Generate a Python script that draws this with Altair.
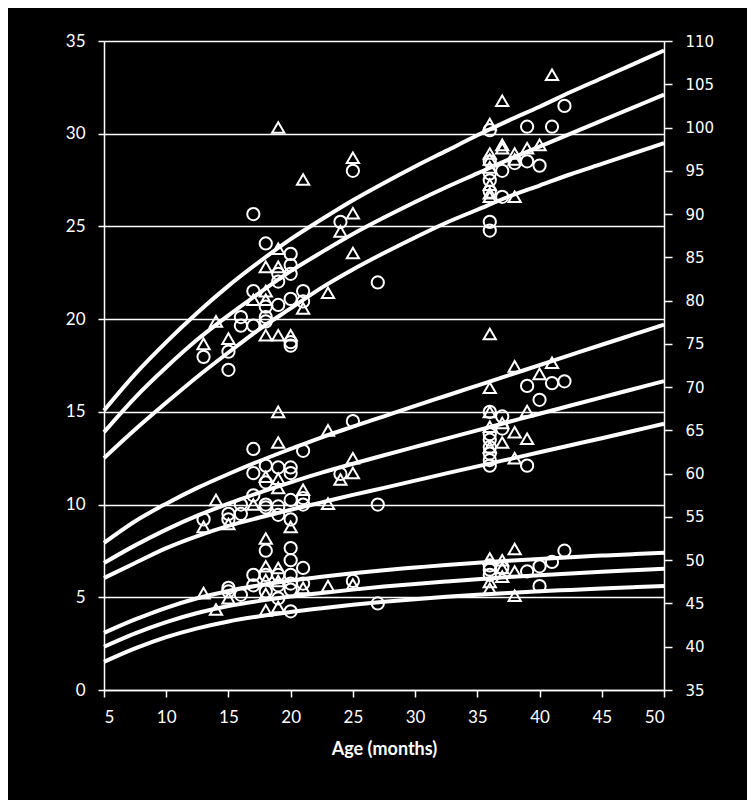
import altair as alt
import pandas as pd

# ---------------- data ----------------
curve_months = [5, 7.5, 10, 12.5, 15, 17.5, 20, 22.5, 25, 27.5, 30, 32.5, 35, 37.5, 40, 42.5, 45, 47.5, 50]

# height reference curves (cm, right axis)
height_upper = [67.3, 71.5, 75.2, 78.6, 81.7, 84.5, 87.1, 89.4, 91.6, 93.6, 95.5, 97.3, 99.1, 100.8, 102.4, 104.1, 105.7, 107.3, 108.9]
height_mid = [64.8, 68.8, 72.3, 75.5, 78.3, 80.9, 83.4, 85.6, 87.7, 89.6, 91.4, 93.1, 94.7, 96.3, 97.8, 99.3, 100.8, 102.3, 103.8]
height_low = [61.8, 65.1, 68.2, 71.2, 74.0, 76.7, 79.1, 81.5, 83.6, 85.5, 87.3, 89.0, 90.5, 92.0, 93.3, 94.6, 95.8, 97.0, 98.2]

# weight reference curves (kg, left axis)
weight_upper = [7.93, 9.1, 10.05, 10.9, 11.65, 12.35, 13.0, 13.63, 14.2, 14.76, 15.32, 15.87, 16.42, 16.97, 17.52, 18.07, 18.62, 19.16, 19.7]
weight_mid = [6.85, 7.8, 8.65, 9.4, 10.05, 10.65, 11.2, 11.72, 12.2, 12.66, 13.11, 13.56, 14.0, 14.45, 14.9, 15.34, 15.78, 16.22, 16.66]
weight_low = [6.04, 6.85, 7.65, 8.3, 8.85, 9.3, 9.72, 10.12, 10.52, 10.9, 11.29, 11.68, 12.06, 12.44, 12.82, 13.2, 13.58, 13.97, 14.36]

# head circumference reference curves (cm, right axis)
head_upper = [41.6, 43.15, 44.5, 45.6, 46.45, 47.1, 47.65, 48.1, 48.5, 48.85, 49.15, 49.45, 49.7, 49.93, 50.15, 50.35, 50.53, 50.7, 50.86]
head_mid = [40.0, 41.55, 42.85, 43.9, 44.7, 45.3, 45.8, 46.22, 46.6, 46.95, 47.26, 47.54, 47.81, 48.05, 48.27, 48.47, 48.66, 48.83, 49.0]
head_low = [38.25, 39.8, 41.1, 42.12, 42.92, 43.52, 44.02, 44.45, 44.85, 45.2, 45.5, 45.77, 46.0, 46.21, 46.4, 46.57, 46.73, 46.88, 47.02]

# observations
height_circle_age = [13, 15, 15, 16, 16, 17, 17, 17, 18, 18, 18, 18, 19, 19, 19, 20, 20, 20, 20, 20, 20, 21, 21, 24, 25, 27,
                     36, 36, 36, 36, 36, 36, 36, 37, 37, 38, 39, 39, 40, 41, 42]
height_circle_cm = [73.5, 74.1, 72.0, 78.1, 77.1, 90.0, 81.1, 77.1, 86.6, 79.3, 78.1, 77.6, 83.1, 82.2, 79.5, 85.4, 84.1, 83.1, 80.2, 75.2, 74.8, 81.1, 79.9, 89.1, 95.0, 82.1,
                    99.7, 96.1, 94.7, 93.9, 92.6, 89.1, 88.1, 95.0, 92.0, 95.9, 100.1, 96.1, 95.6, 100.1, 102.5]
height_tri_age = [13, 14, 15, 17, 18, 18, 18, 18, 19, 19, 19, 19, 20, 21, 21, 23, 24, 25, 25, 25,
                  36, 36, 36, 36, 36, 36, 36, 37, 37, 37, 38, 38, 38, 39, 40, 41]
height_tri_cm = [75.0, 77.6, 75.6, 80.1, 83.9, 81.1, 80.1, 76.0, 100.0, 86.0, 83.9, 76.0, 76.0, 94.0, 79.1, 80.9, 88.0, 96.5, 90.1, 85.5,
                 100.4, 97.0, 96.3, 95.4, 93.4, 92.4, 92.0, 103.1, 98.0, 97.6, 97.0, 96.3, 92.0, 97.6, 98.0, 106.1]

weight_circle_age = [13, 15, 15, 16, 16, 17, 17, 17, 18, 18, 18, 18, 19, 19, 19, 20, 20, 20, 20, 21, 21, 21, 24, 25, 27,
                     36, 36, 36, 36, 36, 36, 36, 37, 37, 39, 39, 40, 41, 42]
weight_circle_kg = [9.2, 9.5, 9.2, 10.0, 9.5, 13.0, 11.7, 10.5, 12.1, 11.2, 10.0, 9.85, 12.0, 9.9, 9.45, 12.0, 11.7, 10.25, 9.2, 12.9, 10.35, 10.0, 11.65, 14.5, 10.0,
                    15.0, 13.8, 13.5, 13.1, 12.75, 12.4, 12.1, 14.75, 14.1, 16.4, 12.1, 15.65, 16.55, 16.65]
weight_tri_age = [13, 14, 15, 17, 18, 19, 19, 19, 19, 20, 21, 23, 23, 24, 25, 25,
                  36, 36, 36, 36, 36, 37, 37, 38, 38, 38, 39, 39, 40, 41]
weight_tri_kg = [8.8, 10.25, 8.95, 10.0, 11.5, 15.0, 13.35, 11.4, 10.9, 8.8, 10.8, 14.0, 10.05, 11.35, 12.5, 11.7,
                 19.2, 16.3, 15.0, 14.2, 13.1, 14.4, 13.35, 17.45, 13.9, 12.5, 15.05, 13.55, 17.05, 17.65]

head_circle_age = [15, 15, 16, 17, 17, 18, 18, 18, 19, 19, 19, 20, 20, 20, 20, 20, 20, 21, 21, 25, 27,
                   36, 36, 36, 37, 39, 40, 40, 41, 42]
head_circle_cm = [46.8, 46.4, 46.0, 48.3, 47.1, 51.1, 48.3, 46.4, 48.3, 47.1, 45.6, 51.4, 50.0, 48.3, 47.3, 46.6, 44.1, 49.1, 47.3, 47.6, 45.0,
                  49.4, 48.9, 48.3, 49.1, 48.7, 49.3, 47.0, 49.8, 51.1]
head_tri_age = [13, 14, 15, 18, 18, 18, 18, 18, 19, 19, 19, 21, 23, 25, 36, 36, 36, 37, 37, 37, 38, 38, 38]
head_tri_cm = [46.2, 44.3, 45.6, 52.5, 49.3, 47.7, 46.1, 44.2, 49.1, 47.6, 44.6, 46.8, 47.0, 47.2, 50.2, 47.5, 46.7, 50.0, 49.1, 48.1, 51.3, 48.7, 45.9]

x_ticks = [5, 10, 15, 20, 25, 30, 35, 40, 45, 50]
left_ticks = [0, 5, 10, 15, 20, 25, 30, 35]
right_ticks = list(range(35, 111, 5))


# ---------------- tables ----------------
def curves(named):
    rows = []
    for name, vals in named.items():
        for m, v in zip(curve_months, vals):
            rows.append({"age": m, "value": v, "curve": name})
    return pd.DataFrame(rows)


def pts(ages, vals):
    return pd.DataFrame({"age": ages, "value": vals})


weight_curves = curves({"wu": weight_upper, "wm": weight_mid, "wl": weight_low})
right_curves = curves({"hu": height_upper, "hm": height_mid, "hl": height_low,
                       "cu": head_upper, "cm": head_mid, "cl": head_low})

x_enc = alt.X(
    "age:Q",
    scale=alt.Scale(domain=[5, 50], nice=False, zero=False),
    axis=alt.Axis(values=x_ticks, title="Age (months)", grid=False, tickSize=7,
                  labelPadding=20, labelBaseline="middle", labelFont="Lato", labelFontSize=17,
                  titleFont="Lato", titleFontSize=18, titleFontWeight="bold",
                  titleY=59, titleBaseline="middle", domainWidth=1.5, tickWidth=1.5),
)

y_left = alt.Y(
    "value:Q",
    scale=alt.Scale(domain=[0, 35], nice=False, zero=False),
    axis=alt.Axis(orient="left", values=left_ticks, title=None, grid=True, gridWidth=1.5,
                  tickSize=6, labelPadding=13, labelFont="Lato", labelFontSize=17,
                  domainWidth=1.5, tickWidth=1.5),
)

y_right = alt.Y(
    "value:Q",
    scale=alt.Scale(domain=[35, 110], nice=False, zero=False),
    axis=alt.Axis(orient="right", values=right_ticks, title=None, grid=False,
                  tickSize=8, labelPadding=13, labelFont="DejaVu Sans", labelFontSize=15,
                  domainWidth=1.5, tickWidth=1.5),
)

line_kw = dict(color="white", strokeWidth=4, interpolate="monotone")
pt_kw = dict(filled=False, color="white", strokeWidth=2, size=150, opacity=1)

left_layer = alt.layer(
    alt.Chart(weight_curves).mark_line(**line_kw).encode(x=x_enc, y=y_left, detail="curve:N"),
    alt.Chart(pts(weight_circle_age, weight_circle_kg)).mark_point(shape="circle", **pt_kw).encode(x=x_enc, y=y_left),
    alt.Chart(pts(weight_tri_age, weight_tri_kg)).mark_point(shape="triangle-up", **pt_kw).encode(x=x_enc, y=y_left),
)

right_layer = alt.layer(
    alt.Chart(right_curves).mark_line(**line_kw).encode(x=x_enc, y=y_right, detail="curve:N"),
    alt.Chart(pts(height_circle_age, height_circle_cm)).mark_point(shape="circle", **pt_kw).encode(x=x_enc, y=y_right),
    alt.Chart(pts(height_tri_age, height_tri_cm)).mark_point(shape="triangle-up", **pt_kw).encode(x=x_enc, y=y_right),
    alt.Chart(pts(head_circle_age, head_circle_cm)).mark_point(shape="circle", **pt_kw).encode(x=x_enc, y=y_right),
    alt.Chart(pts(head_tri_age, head_tri_cm)).mark_point(shape="triangle-up", **pt_kw).encode(x=x_enc, y=y_right),
)

chart = (
    alt.layer(left_layer, right_layer)
    .resolve_scale(y="independent")
    .properties(
        width=560,
        height=649,
        padding={"left": 96, "top": 33, "right": 83, "bottom": 110},
        autosize=alt.AutoSizeParams(type="none"),
        background="black",
    )
    .configure_view(stroke=None)
    .configure_axis(labelColor="white", domainColor="white", tickColor="white",
                    gridColor="white", titleColor="white")
)

chart.save("out.html", embed_options={"renderer": "svg", "actions": False})
